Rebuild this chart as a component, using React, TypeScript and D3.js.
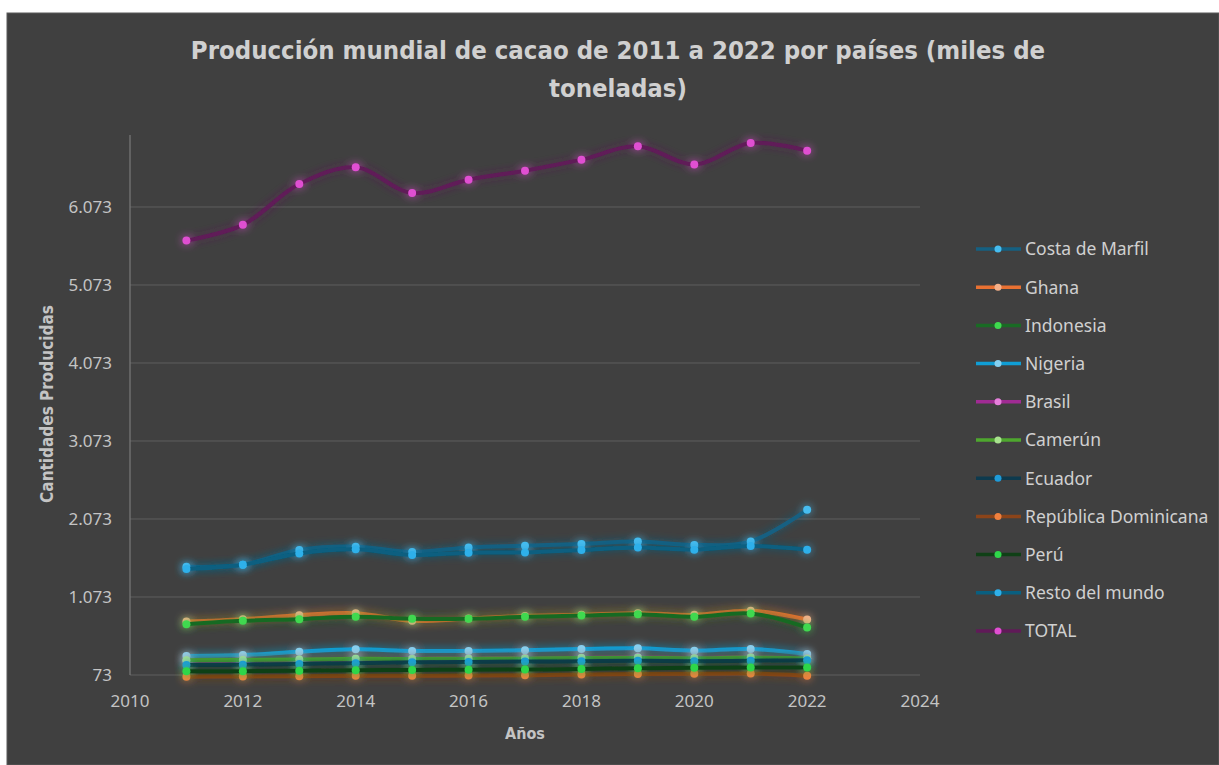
import React from 'react';
import * as d3 from 'd3';

// años del eje X y datos (miles de toneladas)
const years = [2011, 2012, 2013, 2014, 2015, 2016, 2017, 2018, 2019, 2020, 2021, 2022];

const costaDeMarfil = [1461, 1487, 1676, 1718, 1650, 1709, 1731, 1753, 1786, 1740, 1786, 2190];
const ghana = [758, 789, 840, 866, 767, 797, 831, 844, 866, 844, 896, 784];
const indonesia = [724, 767, 789, 819, 793, 793, 819, 835, 853, 819, 861, 681];
const nigeria = [317, 329, 372, 402, 381, 381, 390, 406, 415, 385, 406, 342];
const brasil = [255, 258, 268, 278, 282, 286, 290, 295, 300, 292, 300, 288];
const camerun = [262, 266, 272, 280, 278, 282, 285, 290, 295, 288, 296, 285];
const ecuador = [200, 205, 215, 225, 235, 240, 245, 250, 255, 250, 255, 262];
const republicaDominicana = [52, 55, 58, 62, 63, 65, 70, 78, 85, 88, 92, 64];
const peru = [120, 122, 128, 135, 138, 140, 143, 150, 160, 165, 170, 170];
const restoDelMundo = [1432, 1487, 1632, 1684, 1612, 1641, 1645, 1676, 1709, 1680, 1727, 1680];
const total = [5642, 5844, 6367, 6581, 6251, 6423, 6538, 6680, 6851, 6619, 6894, 6795];

const seriesNames = [
  'Costa de Marfil', 'Ghana', 'Indonesia', 'Nigeria', 'Brasil', 'Camerún',
  'Ecuador', 'República Dominicana', 'Perú', 'Resto del mundo', 'TOTAL',
];
const seriesValues = [
  costaDeMarfil, ghana, indonesia, nigeria, brasil, camerun,
  ecuador, republicaDominicana, peru, restoDelMundo, total,
];

const yTicks = [73, 1073, 2073, 3073, 4073, 5073, 6073];
const xTicks = [2010, 2012, 2014, 2016, 2018, 2020, 2022, 2024];

// colores tipo tema Office (línea / marcador)
const lineColors = ['#156082', '#E97132', '#196B24', '#0F9ED5', '#A02B93', '#4EA72E', '#0D3A4E', '#8C4419', '#0F4016', '#095F80', '#601A58'];
const markerColors = ['#47bdf0', '#f5b089', '#3fd94f', '#86d0f0', '#e67fdc', '#a9e28f', '#1f9bd8', '#f0803e', '#2fd64a', '#2fb0ea', '#e04fd2'];

const W = 1219;
const H = 765;
const plot = { left: 130, right: 920, top: 135, bottom: 675 };

const fmt = d3.formatLocale({ decimal: ',', thousands: '.', grouping: [3], currency: ['', '€'] }).format(',d');

const condensed = '"Liberation Sans Narrow", "DejaVu Sans Condensed", sans-serif';

export default function App() {
  const x = d3.scaleLinear().domain([2010, 2024]).range([plot.left, plot.right]);
  const y = d3.scaleLinear().domain([73, 6996]).range([plot.bottom, plot.top]);

  const line = d3.line<number>()
    .x((_, i) => x(years[i]))
    .y(d => y(d))
    .curve(d3.curveCatmullRom.alpha(0.5));

  const legendY = d3.scalePoint<string>().domain(seriesNames).range([249, 631]);

  const textCol = '#d0d0d0';
  const tickCol = '#c4c4c4';

  return (
    <div style={{ position: 'absolute', left: 0, top: 0, width: W, height: H, background: '#fff' }}>
      <svg width={W} height={H} style={{ display: 'block' }}>
        <defs>
          <filter id="glow" filterUnits="userSpaceOnUse" x={0} y={0} width={W} height={H}>
            <feGaussianBlur in="SourceGraphic" stdDeviation="4.5" result="blur" />
            <feComponentTransfer in="blur" result="soft">
              <feFuncA type="linear" slope="0.85" />
            </feComponentTransfer>
            <feMerge>
              <feMergeNode in="soft" />
              <feMergeNode in="SourceGraphic" />
            </feMerge>
          </filter>
        </defs>

        <rect x={7} y={13} width={W - 7} height={H - 13} fill="#404040" stroke="#5a5a5a" strokeWidth={1} />

        <text x={618} y={59} textAnchor="middle" fill={textCol}
          style={{ font: `bold 25.5px ${condensed}` }}>
          Producción mundial de cacao de 2011 a 2022 por países (miles de
        </text>
        <text x={618} y={97} textAnchor="middle" fill={textCol}
          style={{ font: `bold 25.5px ${condensed}` }}>
          toneladas)
        </text>

        {/* rejilla y eje Y */}
        {yTicks.map(t => (
          <g key={t}>
            <line x1={plot.left} x2={plot.right} y1={y(t)} y2={y(t)} stroke="#5e5e5e" strokeWidth={1} />
            <text x={112} y={y(t)} dy="0.36em" textAnchor="end" fill={tickCol}
              style={{ font: '17px "Noto Sans", sans-serif' }}>{fmt(t)}</text>
          </g>
        ))}
        <line x1={plot.left} x2={plot.left} y1={plot.top} y2={plot.bottom} stroke="#7a7a7a" strokeWidth={1.2} />

        {xTicks.map(t => (
          <text key={t} x={x(t)} y={701} dy="0.36em" textAnchor="middle" fill={tickCol}
            style={{ font: '17px "Noto Sans", sans-serif' }}>{t}</text>
        ))}

        <text x={525} y={733} dy="0.36em" textAnchor="middle" fill={tickCol}
          style={{ font: `bold 16px ${condensed}` }}>Años</text>
        <text transform={`translate(47,${404}) rotate(-90)`} dy="0.36em" textAnchor="middle" fill={tickCol}
          style={{ font: `bold 17px ${condensed}` }}>Cantidades Producidas</text>

        {/* series */}
        {seriesValues.map((vals, si) => (
          <g key={seriesNames[si]} filter="url(#glow)">
            <path d={line(vals) || ''} fill="none" stroke={lineColors[si]} strokeWidth={4} strokeLinejoin="round" strokeLinecap="round" />
            {vals.map((v, i) => (
              <circle key={i} cx={x(years[i])} cy={y(v)} r={4} fill={markerColors[si]} />
            ))}
          </g>
        ))}

        {/* leyenda */}
        {seriesNames.map((name, si) => {
          const ly = legendY(name) || 0;
          return (
            <g key={name}>
              <line x1={976} x2={1021} y1={ly} y2={ly} stroke={lineColors[si]} strokeWidth={3.5} />
              <circle cx={998} cy={ly} r={3.5} fill={markerColors[si]} />
              <text x={1025} y={ly} dy="0.36em" fill={textCol}
                style={{ font: '17.5px "Noto Sans", sans-serif' }}>{name}</text>
            </g>
          );
        })}
      </svg>
    </div>
  );
}
